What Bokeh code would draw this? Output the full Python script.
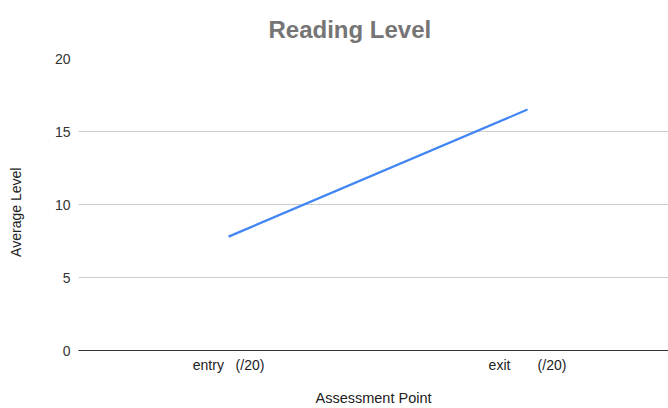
from bokeh.plotting import figure
from bokeh.models import Range1d, FixedTicker, ColumnDataSource
from bokeh.embed import file_html
from bokeh.resources import INLINE

NB = "\u00a0"
categories = ["entry " + NB + " (/20)", "exit " + NB + " " + NB + " " + NB + " (/20)"]
values = [7.8, 16.5]
y_ticks = [0, 5, 10, 15, 20]

positions = list(range(len(categories)))
src = ColumnDataSource(data=dict(x=positions, y=values))

FONT = "Liberation Sans"

p = figure(width=668, height=408, output_backend="svg", toolbar_location=None,
           x_range=Range1d(-0.502, 1.4716), y_range=Range1d(0, 20),
           min_border_left=78, min_border_right=0, min_border_top=58, min_border_bottom=57)
p.outline_line_color = None
p.background_fill_color = "white"
p.border_fill_color = "white"

p.line("x", "y", source=src, line_color="#4285F4", line_width=2.2)

# title
p.title.text = "Reading Level"
p.title.text_font = FONT
p.title.text_font_size = "24px"
p.title.text_font_style = "bold"
p.title.text_color = "#757575"
p.title.align = "left"
p.title.vertical_align = "top"
p.title.offset = 190
p.title.standoff = 28

# y axis
p.yaxis.ticker = FixedTicker(ticks=y_ticks)
p.yaxis.axis_line_color = None
p.yaxis.major_tick_line_color = None
p.yaxis.minor_tick_line_color = None
p.yaxis.major_tick_out = 0
p.yaxis.major_tick_in = 0
p.yaxis.major_label_standoff = 8
p.yaxis.major_label_text_font = FONT
p.yaxis.major_label_text_font_size = "14px"
p.yaxis.major_label_text_color = "#333333"
p.yaxis.axis_label = "Average Level" + NB * 4
p.yaxis.axis_label_text_font = FONT
p.yaxis.axis_label_text_font_style = "normal"
p.yaxis.axis_label_text_font_size = "14px"
p.yaxis.axis_label_text_color = "#222222"
p.yaxis.axis_label_standoff = 28

# x axis
p.xaxis.ticker = FixedTicker(ticks=positions)
p.xaxis.major_label_overrides = {i: c for i, c in zip(positions, categories)}
p.xaxis.axis_line_color = "#333333"
p.xaxis.axis_line_width = 1
p.xaxis.major_tick_line_color = None
p.xaxis.minor_tick_line_color = None
p.xaxis.major_tick_out = 0
p.xaxis.major_tick_in = 0
p.xaxis.major_label_standoff = 6
p.xaxis.major_label_text_font = FONT
p.xaxis.major_label_text_font_size = "14px"
p.xaxis.major_label_text_color = "#222222"
p.xaxis.axis_label = "Assessment Point"
p.xaxis.axis_label_text_font = FONT
p.xaxis.axis_label_text_font_style = "normal"
p.xaxis.axis_label_text_font_size = "14.5px"
p.xaxis.axis_label_text_color = "#222222"
p.xaxis.axis_label_standoff = 14

p.xgrid.grid_line_color = None
p.ygrid.grid_line_color = "#cccccc"
p.ygrid.grid_line_width = 1

open("out.html", "w").write(file_html(p, INLINE))
